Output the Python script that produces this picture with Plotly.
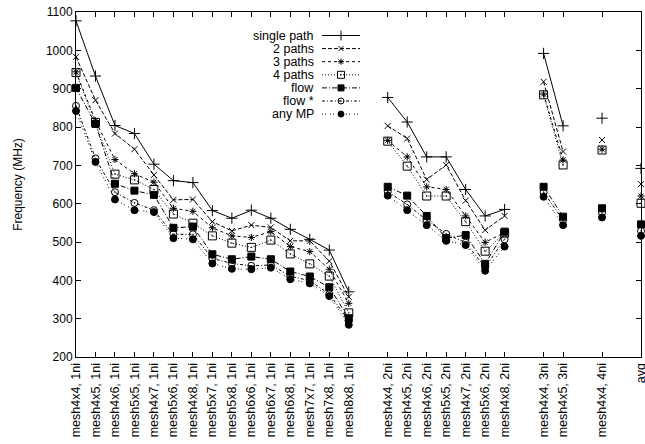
import plotly.graph_objects as go

# Benchmark groups (mesh size, number of network interfaces)
groups_1ni = ["mesh4x4", "mesh4x5", "mesh4x6", "mesh5x5", "mesh4x7", "mesh5x6", "mesh4x8",
              "mesh5x7", "mesh5x8", "mesh6x6", "mesh6x7", "mesh6x8", "mesh7x7", "mesh7x8", "mesh8x8"]
groups_2ni = ["mesh4x4", "mesh4x5", "mesh4x6", "mesh5x5", "mesh4x7", "mesh5x6", "mesh4x8"]
groups_3ni = ["mesh4x4", "mesh4x5"]
groups_4ni = ["mesh4x4"]
group_suffix = ["1ni", "2ni", "3ni", "4ni"]

# Frequency (MHz), in category order: 1ni (15), 2ni (7), 3ni (2), 4ni (1), avg (1)
single_path = [1077, 933, 804, 783, 703, 660, 655, 582, 562, 583, 562, 533, 507, 479, 370,
               877, 813, 722, 722, 637, 568, 585,
               992, 803,
               823,
               692]
paths_2 = [983, 870, 783, 742, 675, 610, 611, 553, 529, 544, 538, 503, 503, 450, 357,
           803, 770, 663, 701, 608, 531, 568,
           918, 736,
           766,
           651]
paths_3 = [944, 816, 715, 678, 656, 588, 580, 537, 516, 512, 527, 488, 475, 429, 340,
           765, 722, 644, 637, 568, 499, 525,
           886, 714,
           742,
           620]
paths_4 = [942, 812, 677, 662, 637, 573, 549, 516, 497, 486, 505, 469, 443, 411, 315,
           763, 698, 620, 620, 553, 476, 523,
           884, 701,
           740,
           601]
flow = [902, 808, 652, 634, 623, 537, 540, 468, 455, 462, 455, 423, 410, 382, 301,
        644, 621, 568, 510, 518, 443, 527,
        644, 566,
        588,
        546]
flow_star = [855, 718, 630, 602, 583, 520, 520, 457, 444, 438, 440, 411, 399, 364, 295,
             631, 598, 557, 521, 498, 434, 507,
             630, 557,
             576,
             529]
any_mp = [842, 709, 611, 583, 578, 510, 507, 444, 430, 429, 433, 403, 392, 359, 284,
          621, 583, 544, 503, 492, 425, 488,
          618, 544,
          564,
          516]

series = [
    ("single path", single_path, "solid", "cross-thin", 8),
    ("2 paths", paths_2, "4px,2px", "x-thin", 6),
    ("3 paths", paths_3, "3px,3px", "asterisk", 6),
    ("4 paths", paths_4, "1px,2px", "square-open-dot", 8),
    ("flow", flow, "5px,2px,1px,2px", "square", 7),
    ("flow *", flow_star, "3px,2px,1px,2px", "circle-open-dot", 7),
    ("any MP", any_mp, "1px,2px,1px,4px", "circle", 7),
]

# Category positions, leaving one empty slot between groups
positions, labels, group_of = [], [], []
pos = 0
for gi, (names, suf) in enumerate(zip([groups_1ni, groups_2ni, groups_3ni, groups_4ni], group_suffix)):
    for n in names:
        positions.append(pos)
        labels.append(f"{n}, {suf}")
        group_of.append(gi)
        pos += 1
    pos += 1
positions.append(pos)
labels.append("avg")
group_of.append(len(group_suffix))

FONT = "Liberation Sans, Arial, sans-serif"
fig = go.Figure()

for name, vals, dash, sym, size in series:
    xs, ys = [], []
    for i, v in enumerate(vals):
        if i > 0 and group_of[i] != group_of[i - 1]:
            xs.append(None)
            ys.append(None)
        xs.append(positions[i])
        ys.append(v)
    fig.add_trace(go.Scatter(
        x=xs, y=ys, mode="lines+markers", name=name, showlegend=False,
        line=dict(color="black", width=1, dash=dash),
        marker=dict(symbol=sym, size=size, color="black",
                    line=dict(color="black", width=1)),
        cliponaxis=False, connectgaps=False,
    ))

# Key in the upper middle: label text, then line sample with marker
key_text_x = (316 - 76) / 565
key_x0, key_x1 = (322 - 76) / 565, (360 - 76) / 565
key_mx = (341 - 76) / 565
key_rows = [(357 - (35.5 + 13.1 * i)) / 345 for i in range(len(series))]

for (name, vals, dash, sym, size), ky in zip(series, key_rows):
    fig.add_annotation(x=key_text_x, y=ky, xref="paper", yref="paper", text=name,
                       showarrow=False, xanchor="right", yanchor="middle",
                       font=dict(family=FONT, size=12.5, color="black"))
    fig.add_shape(type="line", xref="paper", yref="paper", x0=key_x0, x1=key_x1,
                  y0=ky, y1=ky, line=dict(color="black", width=1, dash=dash))
    fig.add_trace(go.Scatter(
        x=[key_mx], y=[ky], xaxis="x2", yaxis="y2", mode="markers", showlegend=False,
        marker=dict(symbol=sym, size=size - 1, color="black",
                    line=dict(color="black", width=1)),
        hoverinfo="skip", cliponaxis=False,
    ))

fig.update_layout(
    width=645, height=444,
    margin=dict(l=76, r=4, t=12, b=87),
    paper_bgcolor="white", plot_bgcolor="white",
    font=dict(family=FONT, size=12, color="black"),
    showlegend=False,
    xaxis=dict(
        range=[0, positions[-1]], tickmode="array", tickvals=positions, ticktext=labels,
        tickangle=-90, ticks="inside", ticklen=5, tickwidth=1, tickcolor="black",
        showline=True, linecolor="black", linewidth=1, mirror="ticks",
        showgrid=False, zeroline=False, automargin=False,
        ticklabeloverflow="allow",
        tickfont=dict(family=FONT, size=12.5),
    ),
    yaxis=dict(
        range=[200, 1100], tickmode="linear", tick0=200, dtick=100,
        ticks="inside", ticklen=5, tickwidth=1, tickcolor="black",
        showline=True, linecolor="black", linewidth=1, mirror="ticks",
        showgrid=False, zeroline=False, automargin=False,
        title=dict(text="Frequency (MHz)", standoff=20, font=dict(family=FONT, size=12)),
        tickfont=dict(family=FONT, size=12),
    ),
    xaxis2=dict(overlaying="x", range=[0, 1], visible=False),
    yaxis2=dict(overlaying="y", range=[0, 1], visible=False),
)

fig.write_html("out.html")
